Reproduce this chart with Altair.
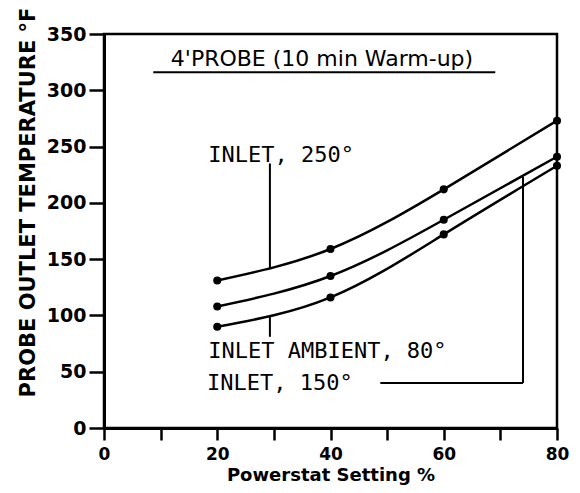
import altair as alt
import pandas as pd

# ---- data ----
setting = [20, 40, 60, 80]
inlet_250 = [131, 159, 212, 273]
inlet_150 = [108, 135, 185, 241]
inlet_ambient = [90, 116, 172, 233]
series_names = ["INLET, 250°", "INLET, 150°", "INLET AMBIENT, 80°"]

x_ticks = [0, 10, 20, 30, 40, 50, 60, 70, 80]
y_ticks = [0, 50, 100, 150, 200, 250, 300, 350]

# annotation labels (data coordinates)
label_text = ["INLET, 250°", "INLET AMBIENT, 80°", "INLET, 150°"]
label_x = [18.4, 18.4, 18.2]
label_y = [236, 62, 34]

# leader line segments (data coordinates)
seg_x = [29.3, 29.3, 48.8, 74.0]
seg_x2 = [29.3, 29.3, 74.0, 74.0]
seg_y = [235, 99, 40, 40]
seg_y2 = [142, 81, 40, 223]

title_text = ["4'PROBE (10 min Warm-up)"]
title_x = [38.5]
title_y = [322]
underline_x = [8.7]
underline_x2 = [69.1]
underline_y = [316]

# ---- build tables ----
rows = []
for name, vals in zip(series_names, [inlet_250, inlet_150, inlet_ambient]):
    for s, v in zip(setting, vals):
        rows.append({"series": name, "setting": s, "temp": v})
df = pd.DataFrame(rows)
labels = pd.DataFrame({"text": label_text, "x": label_x, "y": label_y})
segs = pd.DataFrame({"x": seg_x, "x2": seg_x2, "y": seg_y, "y2": seg_y2})
ttl = pd.DataFrame({"text": title_text, "x": title_x, "y": title_y})
uline = pd.DataFrame({"x": underline_x, "x2": underline_x2, "y": underline_y})

xscale = alt.Scale(domain=[0, 80], nice=False, zero=False)
yscale = alt.Scale(domain=[0, 350], nice=False)

xaxis = alt.Axis(
    values=x_ticks,
    labelExpr="datum.value % 20 == 0 ? datum.label : ''",
    title="Powerstat Setting %",
    titleFont="DejaVu Sans", titleFontSize=18, titleFontWeight="bold",
    titleY=52, titleBaseline="alphabetic", titleColor="black",
    labelFont="DejaVu Sans", labelFontSize=17, labelFontWeight="bold",
    labelColor="black", labelPadding=6, tickSize=12, tickWidth=2.5,
    tickColor="black", domainColor="black", domainWidth=3, grid=False,
    labelFlush=False,
)
yaxis = alt.Axis(
    values=y_ticks,
    title="PROBE OUTLET TEMPERATURE °F",
    titleFont="DejaVu Sans", titleFontSize=21, titleFontWeight="bold",
    titleAngle=270, titleX=-70, titleY=168, titleBaseline="alphabetic",
    titleAlign="center", titleColor="black",
    labelFont="DejaVu Sans", labelFontSize=19, labelFontWeight="bold",
    labelColor="black", labelPadding=3, tickSize=15, tickWidth=2.5,
    tickColor="black", domainColor="black", domainWidth=3, grid=False,
    labelFlush=False,
)

base = alt.Chart(df)
lines = base.mark_line(interpolate="natural", color="black", strokeWidth=2.5).encode(
    x=alt.X("setting:Q", scale=xscale, axis=xaxis),
    y=alt.Y("temp:Q", scale=yscale, axis=yaxis),
    detail="series:N",
)
points = base.mark_point(filled=True, color="black", size=65, opacity=1).encode(
    x=alt.X("setting:Q", scale=xscale),
    y=alt.Y("temp:Q", scale=yscale),
)
leaders = alt.Chart(segs).mark_rule(color="black", strokeWidth=2).encode(
    x=alt.X("x:Q", scale=xscale), x2="x2:Q",
    y=alt.Y("y:Q", scale=yscale), y2="y2:Q",
)
texts = alt.Chart(labels).mark_text(
    align="left", baseline="alphabetic", font="DejaVu Sans Mono", fontSize=22, color="black"
).encode(
    x=alt.X("x:Q", scale=xscale), y=alt.Y("y:Q", scale=yscale), text="text:N"
)
title = alt.Chart(ttl).mark_text(
    align="center", baseline="alphabetic", font="DejaVu Sans", fontSize=22, color="black"
).encode(
    x=alt.X("x:Q", scale=xscale), y=alt.Y("y:Q", scale=yscale), text="text:N"
)
underline = alt.Chart(uline).mark_rule(color="black", strokeWidth=2).encode(
    x=alt.X("x:Q", scale=xscale), x2="x2:Q", y=alt.Y("y:Q", scale=yscale)
)

chart = alt.layer(lines, points, leaders, texts, title, underline).properties(
    width=453, height=394,
    autosize=alt.AutoSizeParams(type="none"),
    padding={"left": 96, "top": 26, "right": 15, "bottom": 57},
    background="white",
).configure_view(stroke="black", strokeWidth=2.5)

chart.save("out.html", embed_options={"renderer": "svg", "actions": False})
